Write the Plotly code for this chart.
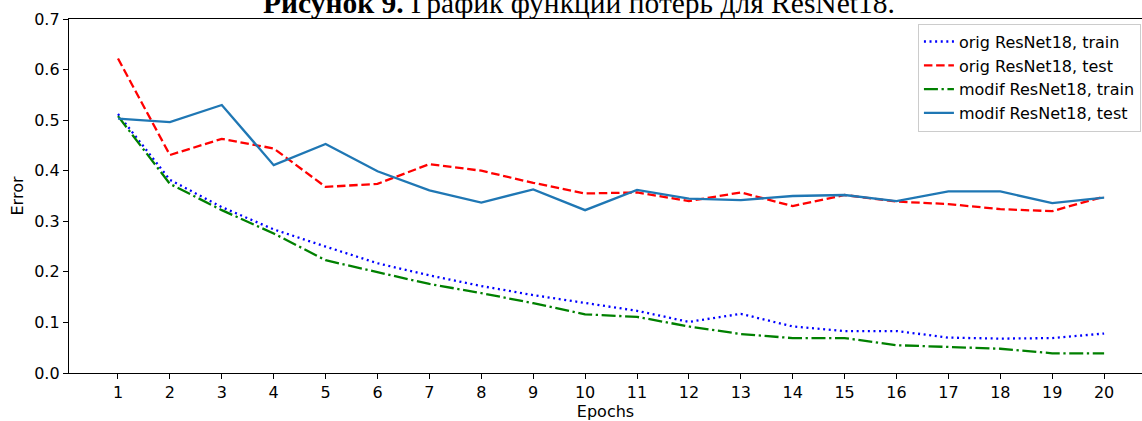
import plotly.graph_objects as go

epochs = list(range(1, 21))
orig_train = [0.512, 0.382, 0.328, 0.284, 0.250, 0.217, 0.193, 0.172, 0.154, 0.139,
              0.123, 0.101, 0.117, 0.092, 0.083, 0.083, 0.070, 0.068, 0.069, 0.078]
orig_test = [0.622, 0.431, 0.463, 0.444, 0.368, 0.374, 0.413, 0.400, 0.376, 0.355,
             0.357, 0.340, 0.357, 0.330, 0.352, 0.339, 0.334, 0.324, 0.320, 0.349]
modif_train = [0.508, 0.374, 0.322, 0.276, 0.223, 0.200, 0.176, 0.158, 0.138, 0.116,
               0.111, 0.092, 0.077, 0.069, 0.069, 0.055, 0.052, 0.048, 0.039, 0.039]
modif_test = [0.503, 0.496, 0.530, 0.411, 0.453, 0.399, 0.361, 0.337, 0.363, 0.322,
              0.362, 0.345, 0.342, 0.350, 0.352, 0.340, 0.359, 0.359, 0.336, 0.347]
y_ticks = [0.0, 0.1, 0.2, 0.3, 0.4, 0.5, 0.6, 0.7]

FONT = "DejaVu Sans"
FS = 16

fig = go.Figure()
fig.add_trace(go.Scatter(x=epochs, y=orig_train, mode="lines", name="orig ResNet18, train",
                         line=dict(color="#0000ff", width=2.3, dash="2px,3.6px")))
fig.add_trace(go.Scatter(x=epochs, y=orig_test, mode="lines", name="orig ResNet18, test",
                         line=dict(color="#ff0000", width=2.3, dash="8.5px,3.7px")))
fig.add_trace(go.Scatter(x=epochs, y=modif_train, mode="lines", name="modif ResNet18, train",
                         line=dict(color="#008000", width=2.3, dash="14px,3.6px,2.3px,3.6px")))
fig.add_trace(go.Scatter(x=epochs, y=modif_test, mode="lines", name="modif ResNet18, test",
                         line=dict(color="#1f77b4", width=2.3)))

fig.update_layout(
    width=1142, height=421,
    margin=dict(l=69, r=0, t=19, b=48),
    paper_bgcolor="white", plot_bgcolor="white",
    font=dict(family=FONT, size=FS, color="black"),
    showlegend=True,
    legend=dict(x=0.999, y=0.987, xanchor="right", yanchor="top",
                bordercolor="#cccccc", borderwidth=1, bgcolor="rgba(255,255,255,0.8)",
                font=dict(family=FONT, size=FS), tracegroupgap=0),
    xaxis=dict(range=[0.056, 20.73], tickmode="array", tickvals=epochs,
               ticks="outside", ticklen=5, tickwidth=1.3, tickcolor="black",
               showline=True, linecolor="black", linewidth=1.3, mirror=True,
               showgrid=False, zeroline=False,
               title=dict(text="Epochs", font=dict(family=FONT, size=FS), standoff=6)),
    yaxis=dict(range=[0, 0.7], tickmode="array", tickvals=y_ticks,
               ticktext=[f"{v:.1f}" for v in y_ticks],
               ticks="outside", ticklen=5, tickwidth=1.3, tickcolor="black",
               showline=True, linecolor="black", linewidth=1.3,
               showgrid=False, zeroline=False,
               title=dict(text="Error", font=dict(family=FONT, size=FS), standoff=6)),
)

fig.add_annotation(
    xref="paper", yref="paper", x=(579 - 69) / 1073, y=1.0452,
    xanchor="center", yanchor="middle", showarrow=False,
    text="<b>Рисунок 9.</b> График функции потерь для ResNet18.",
    font=dict(family="Liberation Serif", size=29.5, color="black"),
)

fig.write_html("out.html")
